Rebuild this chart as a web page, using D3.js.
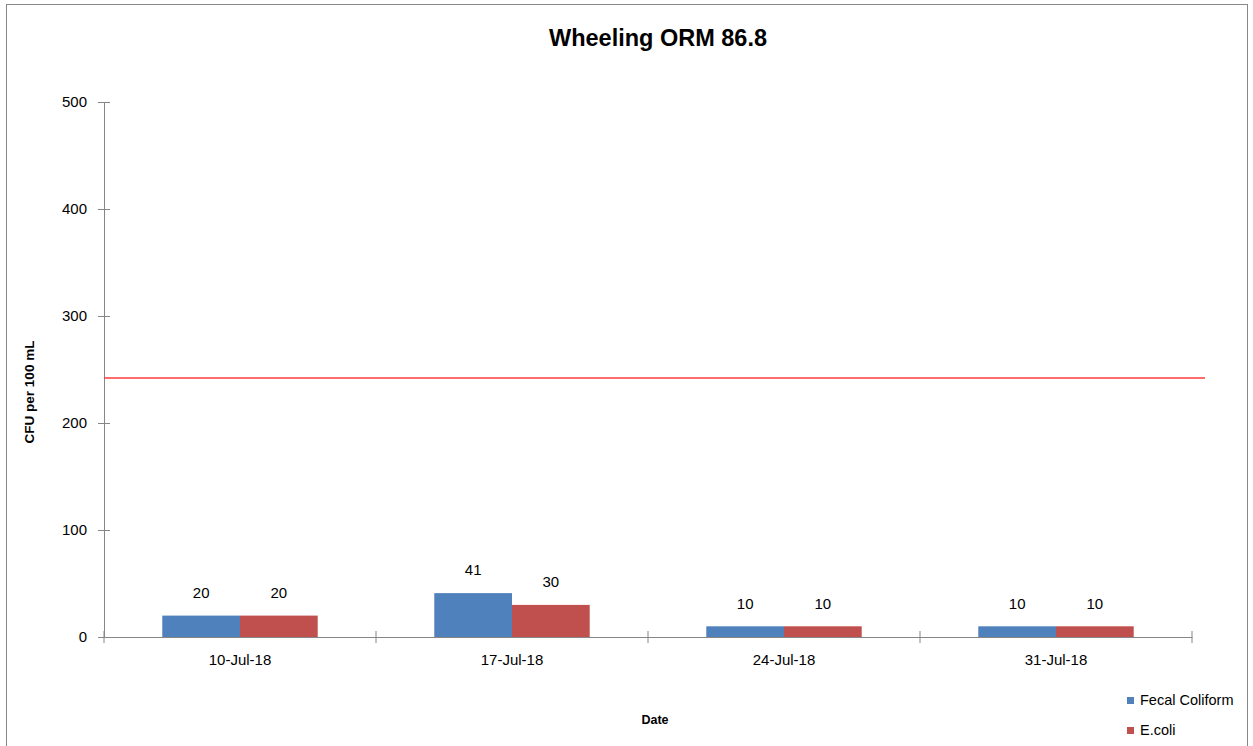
<!DOCTYPE html>
<html><head><meta charset="utf-8">
<script src="https://cdn.jsdelivr.net/npm/d3@7"></script>
<style>body{margin:0;background:#fff}svg{display:block}text{font-family:"Liberation Sans",Arial,sans-serif}</style>
</head><body><svg id="c" width="1253" height="746"></svg>
<script>
const categories = ["10-Jul-18","17-Jul-18","24-Jul-18","31-Jul-18"];
const seriesNames = ["Fecal Coliform","E.coli"];
const fecalColiform = [20,41,10,10];
const eColi = [20,30,10,10];
const limitValue = [242];
const yTicks = [0,100,200,300,400,500];
const colors = ["#4F81BD","#C0504D"];

const svg = d3.select("#c");
svg.append("rect").attr("x",6.5).attr("y",4.5).attr("width",1241).attr("height",750)
  .attr("fill","#fff").attr("stroke","#888");

const L=104,R=1192,T=102,B=637;
const y = d3.scaleLinear().domain([0,500]).range([B,T]);
const x = d3.scaleBand().domain(categories).range([L,R]).paddingInner(0).paddingOuter(0);
const groupW = x.bandwidth()/(2+1.5);
const xs = d3.scaleBand().domain(seriesNames).range([0,groupW*2]);
const offset = (x.bandwidth()-groupW*2)/2;

// title
svg.append("text").attr("x",658).attr("y",46).attr("text-anchor","middle")
  .attr("font-size",23.5).attr("font-weight","bold").text("Wheeling ORM 86.8");

// y axis
const yAxis = svg.append("g").attr("transform",`translate(${L},0)`)
  .call(d3.axisLeft(y).tickValues(yTicks).tickSize(6).tickPadding(11));
yAxis.select(".domain").attr("stroke","#868686");
yAxis.selectAll(".tick line").attr("stroke","#868686").attr("x2",6).attr("x1",-6);
yAxis.selectAll(".tick text").attr("font-size",15).attr("fill","#000").attr("font-family","Liberation Sans, Arial");

// bars
const data = categories.map((c,i)=>({c, vals:[fecalColiform[i],eColi[i]]}));
const g = svg.append("g");
data.forEach(d=>{
  d.vals.forEach((v,j)=>{
    const bx = x(d.c)+offset+xs(seriesNames[j]);
    g.append("rect").attr("x",bx).attr("y",y(v)).attr("width",xs.bandwidth()).attr("height",B-y(v)).attr("fill",colors[j]);
    g.append("text").attr("x",bx+xs.bandwidth()/2).attr("y",y(v)-23).attr("text-anchor","middle")
      .attr("font-size",15).attr("dy","0.35em").text(v);
  });
});

// x axis
const xAxis = svg.append("g").attr("transform",`translate(0,${B})`)
  .call(d3.axisBottom(x).tickSize(0).tickPadding(17));
xAxis.select(".domain").attr("stroke","#868686");
xAxis.selectAll(".tick text").attr("font-size",15).attr("fill","#000").attr("font-family","Liberation Sans, Arial");
const bounds = categories.map(c=>x(c)).concat([x(categories[categories.length-1])+x.bandwidth()]);
xAxis.selectAll(".bt").data(bounds).enter().append("line")
  .attr("x1",d=>d).attr("x2",d=>d).attr("y1",-6).attr("y2",6).attr("stroke","#868686");

// limit line
svg.append("line").attr("x1",L).attr("x2",1205).attr("y1",y(limitValue[0])).attr("y2",y(limitValue[0]))
  .attr("stroke","#FF3B3B").attr("stroke-width",1.5);

// axis titles
svg.append("text").attr("transform",`translate(34,392) rotate(-90)`).attr("text-anchor","middle")
  .attr("font-size",13.5).attr("font-weight","bold").text("CFU per 100 mL");
svg.append("text").attr("x",655).attr("y",724).attr("text-anchor","middle")
  .attr("font-size",12.5).attr("font-weight","bold").text("Date");

// legend
seriesNames.forEach((n,i)=>{
  const ly = 700+i*30;
  svg.append("rect").attr("x",1127).attr("y",ly-3).attr("width",7).attr("height",7).attr("fill",colors[i]);
  svg.append("text").attr("x",1140).attr("y",ly+5).attr("font-size",14.5).text(n);
});
</script></body></html>
